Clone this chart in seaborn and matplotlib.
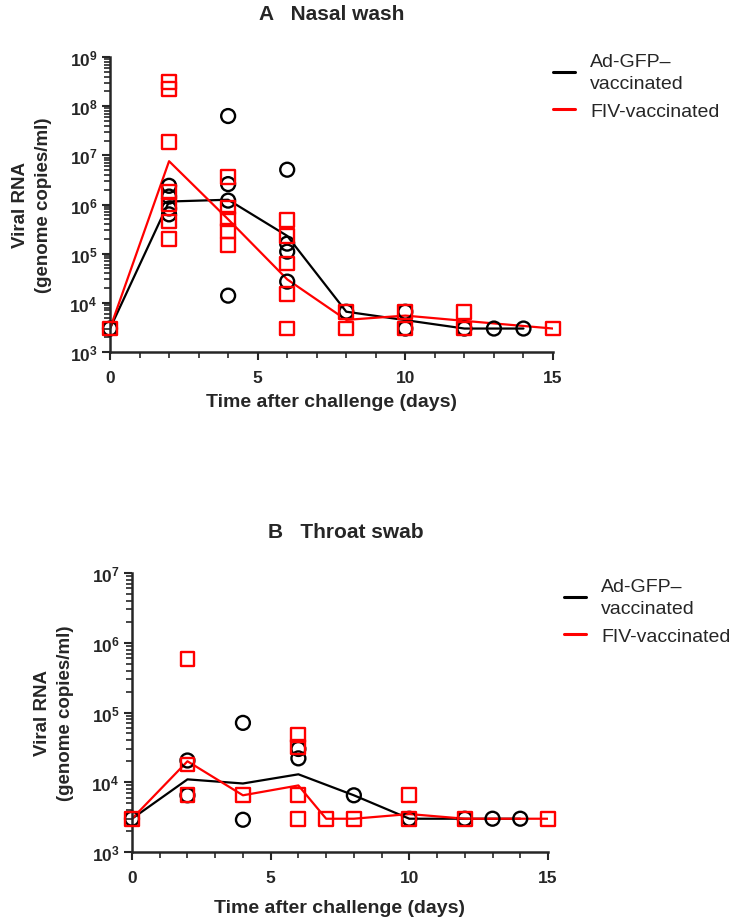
import numpy as np
import pandas as pd
import matplotlib
matplotlib.use("Agg")
import matplotlib.pyplot as plt
from matplotlib.ticker import LogLocator, FixedLocator, NullFormatter
import seaborn as sns

# ---- data (genome copies/ml) ----
groups = ["Ad-GFP–\nvaccinated", "FIV-vaccinated"]
colors = ["black", "red"]
markers = ["o", "s"]

# A  nasal wash: individual animals per day
nasal_gfp_days = [0, 2, 2, 2, 2, 4, 4, 4, 4, 6, 6, 6, 6, 8, 10, 10, 12, 13, 14]
nasal_gfp_vals = [3e3, 2.4e6, 1.45e6, 8.3e5, 6.3e5, 6.3e7, 2.6e6, 1.2e6, 1.4e4,
                  5.1e6, 1.6e5, 1.1e5, 2.7e4, 6.6e3, 6.6e3, 3e3, 3e3, 3e3, 3e3]
nasal_fiv_days = [0, 2, 2, 2, 2, 2, 2, 2, 4, 4, 4, 4, 4, 6, 6, 6, 6, 6,
                  8, 8, 10, 10, 12, 12, 15]
nasal_fiv_vals = [3e3, 3.1e8, 2.2e8, 1.9e7, 1.8e6, 1.0e6, 4.5e5, 2.0e5,
                  3.6e6, 8.7e5, 5.0e5, 2.9e5, 1.5e5,
                  4.8e5, 2.3e5, 6.3e4, 1.5e4, 3e3,
                  6.6e3, 3e3, 6.6e3, 3e3, 6.6e3, 3e3, 3e3]
# group mean lines
nasal_gfp_mean_days = [0, 2, 4, 6, 8, 10, 12, 13, 14]
nasal_gfp_mean = [3e3, 1.15e6, 1.25e6, 2.3e5, 6.6e3, 4.45e3, 3e3, 3e3, 3e3]
nasal_fiv_mean_days = [0, 2, 4, 6, 8, 10, 12, 15]
nasal_fiv_mean = [3e3, 7.6e6, 5.0e5, 3.0e4, 4.5e3, 5.5e3, 4.3e3, 3e3]

# B  throat swab
throat_gfp_days = [0, 2, 2, 4, 4, 6, 6, 8, 10, 12, 13, 14]
throat_gfp_vals = [3e3, 2.05e4, 6.5e3, 7.1e4, 2.9e3, 3.0e4, 2.2e4, 6.5e3,
                   3e3, 3e3, 3e3, 3e3]
throat_fiv_days = [0, 2, 2, 2, 4, 6, 6, 6, 6, 7, 8, 10, 10, 12, 15]
throat_fiv_vals = [3e3, 5.8e5, 1.8e4, 6.5e3, 6.5e3, 4.7e4, 3.2e4, 6.5e3, 3e3,
                   3e3, 3e3, 6.5e3, 3e3, 3e3, 3e3]
throat_gfp_mean_days = [0, 2, 4, 6, 8, 10, 12, 13, 14]
throat_gfp_mean = [3e3, 1.1e4, 9.6e3, 1.3e4, 6.5e3, 3e3, 3e3, 3e3, 3e3]
throat_fiv_mean_days = [0, 2, 4, 6, 7, 8, 10, 12, 15]
throat_fiv_mean = [3e3, 2.0e4, 6.5e3, 9.0e3, 3e3, 3e3, 3.5e3, 3e3, 3e3]

sns.set_style("ticks")
plt.rcParams['font.family'] = ['Liberation Sans', 'DejaVu Sans']
plt.rcParams['mathtext.fontset'] = 'custom'
plt.rcParams['mathtext.rm'] = 'Liberation Sans:bold'
plt.rcParams['mathtext.bf'] = 'Liberation Sans:bold'
plt.rcParams['mathtext.default'] = 'bf'

fig = plt.figure(figsize=(7.5, 9.2), dpi=100)
ax_a = fig.add_axes([110 / 750, 1 - 353 / 920, 443 / 750, 295 / 920])
ax_b = fig.add_axes([132 / 750, 1 - 853 / 920, 416 / 750, 279 / 920])


def draw_panel(ax, pts, means, ymax, title, title_xy, legend_xy, ylab_x, xlab_pad):
    for (d, v), (md, mv), grp, col, mk in zip(pts, means, groups, colors, markers):
        pdf = pd.DataFrame({"day": d, "rna": v})
        mdf = pd.DataFrame({"day": md, "rna": mv})
        sns.lineplot(data=mdf, x="day", y="rna", color=col, linewidth=1.6,
                     label=grp, ax=ax)
        sns.scatterplot(data=pdf, x="day", y="rna", marker=mk, s=100,
                        color=col, facecolor="none", edgecolor=col,
                        linewidth=1.7, clip_on=False, zorder=3, ax=ax)
    ax.set_yscale("log")
    ax.set_xlim(0, 15)
    ax.set_ylim(1e3, ymax)
    sns.despine(ax=ax)
    for s in ["left", "bottom"]:
        ax.spines[s].set_linewidth(1.8)

    # ticks
    exps = range(3, int(np.log10(ymax)) + 1)
    ax.yaxis.set_major_locator(FixedLocator([10.0 ** k for k in exps]))
    ax.set_yticklabels([f"10$^{{{k}}}$" for k in exps])
    ax.yaxis.set_minor_locator(LogLocator(base=10, subs=np.arange(2, 10), numticks=20))
    ax.yaxis.set_minor_formatter(NullFormatter())
    ax.set_xticks([0, 5, 10, 15])
    ax.set_xticks(range(0, 16), minor=True)
    ax.tick_params(axis="both", which="major", length=6, width=1.5,
                   labelsize=12.5, pad=3)
    ax.tick_params(axis="both", which="minor", length=4, width=1.2)
    ax.tick_params(axis="x", which="major", pad=7)
    for lab in ax.get_xticklabels() + ax.get_yticklabels():
        lab.set_fontweight("bold")

    ax.set_xlabel("Time after challenge (days)", fontsize=14, fontweight="bold",
                  labelpad=xlab_pad)
    ax.set_ylabel("Viral RNA\n(genome copies/ml)", fontsize=13.5,
                  fontweight="bold", linespacing=1.45)
    ax.yaxis.set_label_coords(ylab_x, 0.5)

    fig.text(title_xy[0] / 750, 1 - title_xy[1] / 920, title, fontsize=15,
             fontweight="bold", ha="center", va="center")

    handles, labels = ax.get_legend_handles_labels()
    leg = ax.legend(handles[:2], labels[:2], loc="upper left",
                    bbox_to_anchor=(legend_xy[0] / 750, 1 - legend_xy[1] / 920),
                    bbox_transform=fig.transFigure, frameon=False,
                    fontsize=14, handlelength=1.15, handletextpad=0.75,
                    labelspacing=0.5, borderpad=0, borderaxespad=0)
    for t in leg.get_texts():
        t.set_linespacing(1.4)
    for ln in leg.get_lines():
        ln.set_linewidth(2.2)


draw_panel(ax_a,
           [(nasal_gfp_days, nasal_gfp_vals), (nasal_fiv_days, nasal_fiv_vals)],
           [(nasal_gfp_mean_days, nasal_gfp_mean), (nasal_fiv_mean_days, nasal_fiv_mean)],
           1e9, "A   Nasal wash", (332, 15), (553, 54), -0.131, 6)
draw_panel(ax_b,
           [(throat_gfp_days, throat_gfp_vals), (throat_fiv_days, throat_fiv_vals)],
           [(throat_gfp_mean_days, throat_gfp_mean), (throat_fiv_mean_days, throat_fiv_mean)],
           1e7, "B   Throat swab", (346, 533), (564, 579), -0.139, 10)

fig.savefig("out.png", dpi=100)
